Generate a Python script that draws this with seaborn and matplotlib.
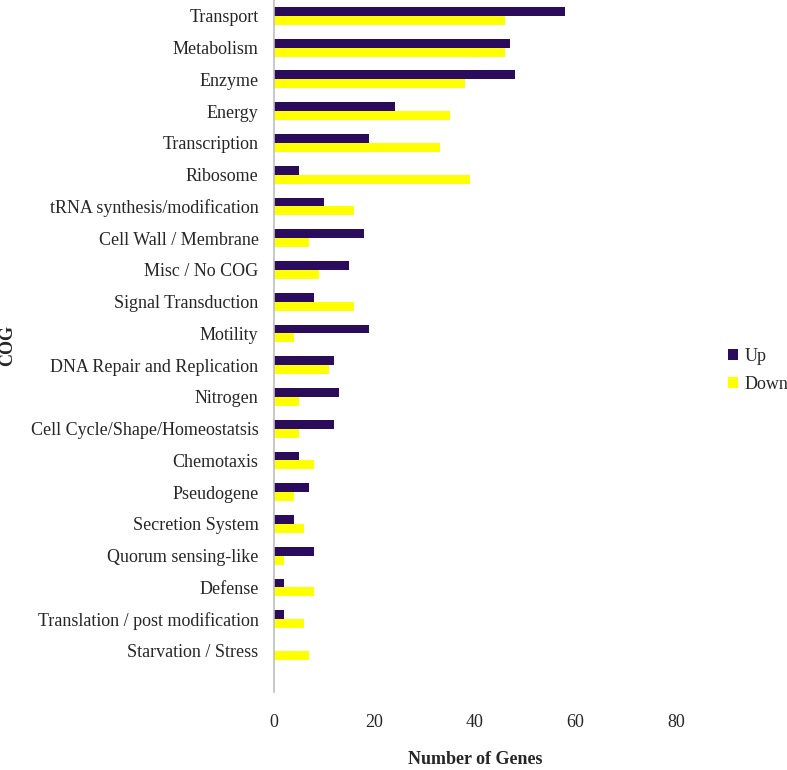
import numpy as np
import pandas as pd
import matplotlib
matplotlib.use("Agg")
import matplotlib.pyplot as plt
import seaborn as sns

# COG categories, top to bottom as in the chart
categories = [
    "Transport", "Metabolism", "Enzyme", "Energy", "Transcription",
    "Ribosome", "tRNA synthesis/modification", "Cell Wall / Membrane",
    "Misc / No COG", "Signal Transduction", "Motility",
    "DNA Repair and Replication", "Nitrogen", "Cell Cycle/Shape/Homeostatsis",
    "Chemotaxis", "Pseudogene", "Secretion System", "Quorum sensing-like",
    "Defense", "Translation / post modification", "Starvation / Stress",
]
up = [58, 47, 48, 24, 19, 5, 10, 18, 15, 8, 19, 12, 13, 12, 5, 7, 4, 8, 2, 2, 0]
down = [46, 46, 38, 35, 33, 39, 16, 7, 9, 16, 4, 11, 5, 5, 8, 4, 6, 2, 8, 6, 7]
x_ticks = [0, 20, 40, 60, 80]

df = pd.DataFrame({
    "COG": categories * 2,
    "Genes": up + down,
    "Direction": ["Up"] * len(categories) + ["Down"] * len(categories),
})

sns.set_style("white")
plt.rcParams["font.family"] = ["Liberation Serif", "DejaVu Serif"]

fig = plt.figure(figsize=(7.87, 7.7), dpi=100)
ax = fig.add_axes([0.348, 0.101, 0.511, 0.899])

sns.barplot(data=df, y="COG", x="Genes", hue="Direction", orient="h",
            order=categories, hue_order=["Up", "Down"],
            palette={"Up": "#2a0b5c", "Down": "#ffff00"},
            saturation=1, width=0.56, linewidth=0, ax=ax, legend=True)

ax.set_xlim(0, 80)
ax.set_ylim(21.3, -0.5)
ax.set_xticks(x_ticks)
ax.tick_params(axis="both", length=0, labelsize=13)
ax.tick_params(axis="y", pad=11)
ax.tick_params(axis="x", pad=16)

for side in ["top", "right", "bottom"]:
    ax.spines[side].set_visible(False)
ax.spines["left"].set_color("#bfbfbf")
ax.spines["left"].set_linewidth(1.2)

ax.set_xlabel("Number of Genes", fontsize=13, fontweight="bold", labelpad=14)
ax.set_ylabel("COG", fontsize=13, fontweight="bold")
ax.yaxis.set_label_coords(-0.642, 0.501)

ax.legend(loc="center left", bbox_to_anchor=(0.925, 0.519),
          bbox_transform=fig.transFigure, frameon=False, fontsize=13,
          handlelength=0.55, handleheight=0.55, handletextpad=0.35,
          labelspacing=0.65, borderpad=0, borderaxespad=0)

fig.savefig("out.png", dpi=100)
